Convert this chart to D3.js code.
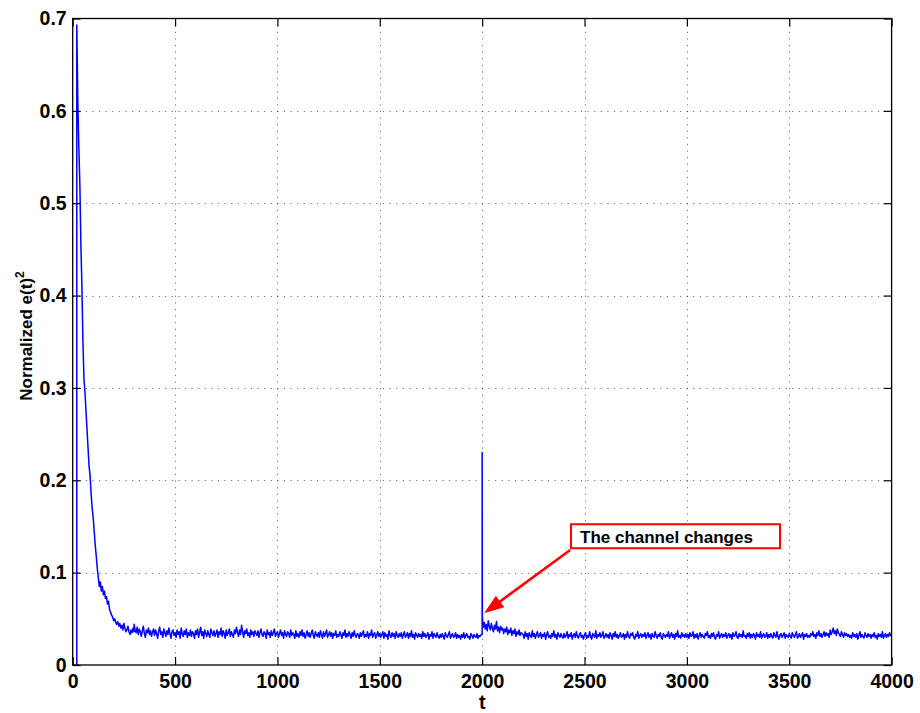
<!DOCTYPE html>
<html>
<head>
<meta charset="utf-8">
<script src="https://cdn.jsdelivr.net/npm/d3@7/dist/d3.min.js"></script>
<style>
  html, body { margin: 0; padding: 0; background: #fff; }
  svg { display: block; font-family: "Liberation Sans", Arial, Helvetica, sans-serif; }
</style>
</head>
<body>
<svg id="chart" width="920" height="713"></svg>
<script>
// Normalized squared error e(t)^2 of an adaptive equalizer, values in units of 1e-3.
// Each segment: first sample time, sample spacing, readings.
const onsetT = [20];
const onsetErr = [0];

const learnStart = 20, learnStep = 5;
const learnErr = [
  693, 610, 560, 520, 455, 410, 350, 310, 295, 275,
  255, 235, 215, 205, 185, 170, 160, 145, 130, 118,
  105, 95, 85, 90, 80, 85, 76, 80, 72, 74,
  66, 69, 60, 57, 54, 52, 48, 50, 46, 44,
  47, 42, 45, 40, 43, 38, 45, 40, 36, 38,
  42, 36, 33, 38, 35, 40, 36
];

const steady1Start = 300, steady1Step = 5;
const steady1Err = [
  44, 38, 35, 41, 33, 39, 36, 31, 37, 42, 34, 30, 38, 35, 40, 33, 37, 31, 36, 39,
  32, 38, 34, 29, 37, 41, 33, 36, 30, 39, 35, 31, 37, 33, 40, 34, 29, 36, 38, 32,
  35, 30, 38, 33, 36, 29, 40, 34, 31, 37, 33, 39, 30, 35, 32, 38, 31, 36, 34, 29,
  37, 33, 39, 30, 35, 41, 32, 36, 29, 38, 34, 31, 37, 33, 30, 39, 35, 32, 37, 31,
  34, 38, 30, 36, 33, 40, 31, 37, 34, 29, 38, 32, 35, 39, 31, 36, 33, 30, 38, 34,
  41, 35, 31, 38, 33, 43, 36, 30, 37, 34, 39, 32, 35, 30, 38, 33, 36, 31, 37, 34,
  32, 37, 30, 35, 39, 33, 31, 36, 34, 29, 38, 33, 35, 30, 37, 32, 35, 39, 31, 34,
  36, 30, 34, 38, 32, 35, 29, 37, 33, 31, 36, 34, 30, 38, 32, 35, 33, 29, 37, 31,
  34, 30, 36, 32, 38, 31, 35, 29, 33, 37, 31, 35, 30, 34, 38, 32, 29, 36, 33, 31,
  35, 30, 37, 33, 29, 36, 31, 34, 38, 30, 33, 36, 31, 35, 29, 34, 32, 37, 30, 33,
  31, 36, 33, 29, 35, 32, 38, 30, 34, 31, 36, 33, 29, 35, 31, 37, 32, 30, 34, 33,
  29, 35, 31, 34, 37, 30, 33, 31, 36, 29, 34, 32, 38, 30, 33, 35, 29, 32, 36, 31,
  34, 30, 33, 36, 29, 35, 31, 33, 28, 37, 32, 30, 35, 31, 34, 29, 36, 32, 30, 34,
  31, 35, 29, 33, 36, 30, 32, 35, 29, 34, 31, 37, 30, 33, 28, 35, 32, 30, 34, 31,
  33, 29, 36, 31, 34, 30, 32, 35, 28, 33, 31, 36, 29, 34, 32, 30, 35, 31, 29, 33,
  30, 34, 31, 28, 35, 32, 30, 33, 36, 29, 32, 34, 30, 31, 35, 29, 33, 30, 32, 28,
  33, 30, 35, 29, 32, 34, 30, 31, 28, 34, 32, 29, 33, 31, 30, 34, 29, 32, 31, 33
];

// the channel switches at t = 2000
const spikeT = [2000, 2000, 2001];
const spikeErr = [33, 230, 52];

const changeStart = 2005, changeStep = 5;
const changeErr = [
  41, 46, 39, 44, 37, 48, 42, 38, 45, 40,
  36, 43, 39, 47, 37, 41, 35, 42, 38, 40,
  34, 39, 36, 41, 33, 38, 35, 40, 32, 37,
  34, 39, 31, 36, 33, 38, 32, 35, 34
];

const steady2Start = 2200, steady2Step = 5;
const steady2Err = [
  33, 29, 36, 31, 34, 28, 35, 32, 30, 37, 31, 34, 29, 33, 36, 30, 32, 35, 29, 33,
  31, 35, 28, 33, 36, 30, 32, 29, 34, 31, 37, 30, 33, 28, 35, 32, 30, 34, 31, 29,
  34, 30, 32, 36, 29, 33, 31, 35, 28, 32, 34, 30, 36, 31, 29, 33, 35, 30, 32, 28,
  33, 35, 29, 32, 30, 36, 31, 28, 34, 32, 30, 37, 29, 33, 31, 35, 30, 32, 36, 29,
  31, 34, 30, 33, 29, 35, 32, 28, 34, 31, 36, 30, 33, 29, 32, 35, 30, 31, 34, 28,
  33, 30, 36, 31, 29, 34, 32, 35, 30, 28, 33, 31, 36, 29, 32, 34, 30, 33, 31, 35,
  29, 32, 35, 30, 33, 28, 34, 31, 30, 36, 32, 29, 33, 31, 35, 30, 28, 34, 32, 30,
  33, 31, 36, 29, 32, 35, 30, 33, 28, 34, 31, 37, 30, 32, 29, 35, 31, 33, 30, 34,
  30, 33, 29, 35, 31, 32, 36, 29, 33, 30, 34, 28, 32, 35, 30, 33, 31, 29, 34, 32,
  36, 30, 32, 29, 34, 31, 35, 30, 28, 33, 31, 36, 29, 32, 34, 30, 33, 31, 35, 29,
  32, 34, 30, 33, 28, 35, 31, 32, 36, 30, 29, 34, 31, 33, 30, 37, 31, 32, 29, 34,
  31, 35, 29, 33, 30, 34, 32, 28, 35, 31, 33, 30, 36, 29, 32, 34, 30, 31, 35, 29,
  33, 30, 34, 31, 29, 35, 32, 30, 36, 31, 28, 33, 34, 30, 32, 35, 29, 33, 31, 30,
  34, 31, 29, 35, 32, 30, 33, 36, 29, 31, 34, 30, 32, 35, 28, 33, 31, 34, 30, 32,
  30, 34, 32, 36, 31, 33, 29, 35, 32, 37, 31, 34, 30, 33, 36, 31, 35, 32, 34, 30,
  38, 33, 36, 40, 34, 37, 32, 39, 35, 33, 31, 36, 33, 30, 35, 32, 34, 31, 33, 30,
  32, 29, 35, 31, 33, 30, 34, 28, 32, 36, 30, 33, 31, 29, 35, 32, 30, 34, 31, 33,
  29, 33, 31, 35, 30, 32, 28, 34, 31, 33, 30, 36, 29, 32, 34, 30, 33, 31, 35, 32,
  33
];

const xTicks = [0, 500, 1000, 1500, 2000, 2500, 3000, 3500, 4000];
const yTicks = [0, 0.1, 0.2, 0.3, 0.4, 0.5, 0.6, 0.7];

// Annotation: arrow from the label box corner to the point where the channel changes
const noteText = "The channel changes";
const noteBoxT = [2434, 3455];        // left / right, in t
const noteBoxE = [0.1524, 0.1264];    // top / bottom, in e(t)^2
const noteArrowT = [2430, 2015];      // tail, tip
const noteArrowE = [0.1246, 0.057];

(function draw() {
  const svg = d3.select("#chart");
  const pl = 72.7, pr = 891.6, pt = 18.5, pb = 665;

  const x = d3.scaleLinear().domain([0, 4000]).range([pl, pr]);
  const y = d3.scaleLinear().domain([0, 0.7]).range([pb, pt]);

  // assemble series points
  const pts = [];
  onsetT.forEach((t, i) => pts.push([t, onsetErr[i]]));
  learnErr.forEach((v, i) => pts.push([learnStart + i * learnStep, v]));
  steady1Err.forEach((v, i) => pts.push([steady1Start + i * steady1Step, v]));
  spikeT.forEach((t, i) => pts.push([t, spikeErr[i]]));
  changeErr.forEach((v, i) => pts.push([changeStart + i * changeStep, v]));
  steady2Err.forEach((v, i) => pts.push([steady2Start + i * steady2Step, v]));

  // grid
  const grid = svg.append("g").attr("stroke", "#000").attr("stroke-opacity", 0.55)
    .attr("stroke-width", 1).attr("stroke-dasharray", "1.2,5.4");
  grid.selectAll("line.gx").data(xTicks.slice(1, -1)).join("line")
    .attr("x1", d => Math.round(x(d)) + 0.5).attr("x2", d => Math.round(x(d)) + 0.5)
    .attr("y1", pt).attr("y2", pb);
  grid.selectAll("line.gy").data(yTicks.slice(1, -1)).join("line")
    .attr("y1", d => Math.round(y(d)) + 0.5).attr("y2", d => Math.round(y(d)) + 0.5)
    .attr("x1", pl).attr("x2", pr);

  // data line
  const line = d3.line().x(d => x(d[0])).y(d => y(d[1] / 1000));
  svg.append("path").datum(pts)
    .attr("fill", "none").attr("stroke", "#0000ff").attr("stroke-width", 1.5)
    .attr("stroke-linejoin", "round")
    .attr("d", line);

  // axes with inward ticks
  const fontSize = 19.5;
  const xAxis = svg.append("g").attr("transform", `translate(0,${pb})`)
    .call(d3.axisBottom(x).tickValues(xTicks).tickSize(-8).tickPadding(9.5).tickFormat(d3.format("d")));
  const yAxis = svg.append("g").attr("transform", `translate(${pl},0)`)
    .call(d3.axisLeft(y).tickValues(yTicks).tickSize(-8).tickPadding(6).tickFormat(d => d === 0 ? "0" : d3.format(".1f")(d)));
  svg.append("g").attr("transform", `translate(0,${pt})`)
    .call(d3.axisTop(x).tickValues(xTicks).tickSize(-8).tickFormat(""));
  svg.append("g").attr("transform", `translate(${pr},0)`)
    .call(d3.axisRight(y).tickValues(yTicks).tickSize(-8).tickFormat(""));

  svg.selectAll(".domain").remove();
  svg.selectAll(".tick line").attr("stroke", "#000").attr("stroke-width", 1.2);
  [xAxis, yAxis].forEach(a => a.selectAll("text")
    .attr("font-size", fontSize).attr("font-weight", "bold").attr("fill", "#000")
    .attr("font-family", "'Liberation Sans', Arial, sans-serif"));

  // frame
  svg.append("rect").attr("x", pl).attr("y", pt)
    .attr("width", pr - pl).attr("height", pb - pt)
    .attr("fill", "none").attr("stroke", "#000").attr("stroke-width", 1.3);

  // axis titles
  svg.append("text").attr("x", (pl + pr) / 2).attr("y", 709)
    .attr("text-anchor", "middle").attr("font-size", 19.5).attr("font-weight", "bold")
    .text("t");
  const yl = svg.append("text")
    .attr("transform", `translate(32,336) rotate(-90)`)
    .attr("text-anchor", "middle").attr("font-size", 17).attr("font-weight", "bold");
  yl.append("tspan").text("Normalized e(t)");
  yl.append("tspan").attr("font-size", 12).attr("dy", -8).text("2");

  // annotation
  const ax1 = x(noteArrowT[0]), ay1 = y(noteArrowE[0]);
  const ax2 = x(noteArrowT[1]), ay2 = y(noteArrowE[1]);
  const ang = Math.atan2(ay2 - ay1, ax2 - ax1);
  const headLen = 18, headHalf = 6.5;
  const bx = ax2 - headLen * Math.cos(ang), by = ay2 - headLen * Math.sin(ang);
  svg.append("line")
    .attr("x1", ax1).attr("y1", ay1).attr("x2", bx).attr("y2", by)
    .attr("stroke", "#ff0000").attr("stroke-width", 2.6);
  svg.append("path")
    .attr("d", d3.line()([
      [ax2, ay2],
      [bx + headHalf * Math.sin(ang), by - headHalf * Math.cos(ang)],
      [bx - headHalf * Math.sin(ang), by + headHalf * Math.cos(ang)]
    ]) + "Z")
    .attr("fill", "#ff0000").attr("stroke", "#ff0000").attr("stroke-width", 1);

  const bl = x(noteBoxT[0]), br = x(noteBoxT[1]);
  const bt = y(noteBoxE[0]), bb = y(noteBoxE[1]);
  svg.append("rect").attr("x", bl).attr("y", bt)
    .attr("width", br - bl).attr("height", bb - bt)
    .attr("fill", "#fff").attr("stroke", "#ff0000").attr("stroke-width", 2);
  svg.append("text").attr("x", bl + 9).attr("y", bb - 5.5)
    .attr("font-size", 17).attr("font-weight", "bold").attr("fill", "#000")
    .text(noteText);
})();
</script>
</body>
</html>
